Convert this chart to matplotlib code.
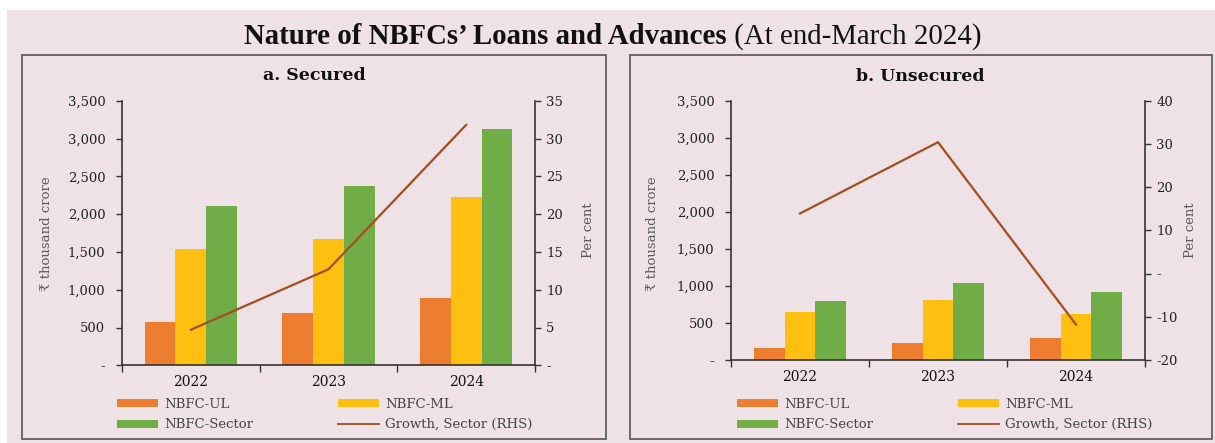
import matplotlib
matplotlib.use("Agg")
import matplotlib.pyplot as plt
from matplotlib.patches import Rectangle
from matplotlib.lines import Line2D
from matplotlib.patches import Patch
import numpy as np

years = ["2022", "2023", "2024"]
sec_ul = [573, 692, 890]
sec_ml = [1534, 1671, 2222]
sec_sector = [2107, 2372, 3122]
sec_growth = [4.7, 12.7, 31.8]

uns_ul = [162, 229, 297]
uns_ml = [652, 810, 621]
uns_sector = [796, 1039, 918]
uns_growth = [13.9, 30.4, -11.8]

left_ticks = [0, 500, 1000, 1500, 2000, 2500, 3000, 3500]

C_UL = "#ED7D31"
C_ML = "#FDC010"
C_SEC = "#70AD47"
C_LINE = "#A64D1F"
BG = "#EFE2E7"
SERIF = ["DejaVu Serif", "DejaVu Sans", "Noto Sans"]

W, H = 1215, 443
fig = plt.figure(figsize=(W / 100, H / 100), dpi=100, facecolor="white")

def fx(px):
    return px / W

def fy(py):
    return 1 - py / H

# pink background
fig.patches.append(Rectangle((fx(7), 0), 1 - fx(7), fy(10), transform=fig.transFigure,
                             facecolor=BG, edgecolor="none", zorder=-10))
# panel frames
for x0, x1 in [(22, 606), (630, 1212)]:
    fig.patches.append(Rectangle((fx(x0), fy(438.5)), fx(x1) - fx(x0), fy(55) - fy(438.5),
                                 transform=fig.transFigure, facecolor="none",
                                 edgecolor="#555555", lw=1.2, zorder=-5))

def fmt_left(v):
    return "-" if v == 0 else f"{int(v):,}"

def fmt_right(v):
    return "-" if v == 0 else f"{int(v)}"

def panel(rect, ul, ml, sec, growth, rticks, rlim):
    l, t, r, b = rect
    ax = fig.add_axes([fx(l), fy(b), fx(r) - fx(l), fy(t) - fy(b)])
    ax.set_facecolor("none")
    x = np.arange(len(years))
    w = 0.224
    ax.bar(x - w, ul, w, color=C_UL, zorder=2)
    ax.bar(x, ml, w, color=C_ML, zorder=2)
    ax.bar(x + w, sec, w, color=C_SEC, zorder=2)
    ax.set_xlim(-0.5, 2.5)
    ax.set_ylim(0, 3500)
    ax.set_yticks(left_ticks)
    ax.set_yticklabels([fmt_left(v) for v in left_ticks], fontfamily=SERIF, fontsize=9.5, color="#222222")
    ax.set_xticks(x)
    ax.set_xticklabels(years, fontfamily=SERIF, fontsize=10, color="#111111")
    ax.set_xticks([-0.5, 0.5, 1.5, 2.5], minor=True)
    ax.tick_params(axis="x", which="major", length=0, pad=7)
    ax.tick_params(axis="x", which="minor", length=5, width=1, color="#333333", direction="out")
    ax.tick_params(axis="y", length=4, width=1, color="#333333", pad=8)
    for s in ["top", "right"]:
        ax.spines[s].set_visible(False)
    for s in ["left", "bottom"]:
        ax.spines[s].set_color("#333333")
        ax.spines[s].set_linewidth(1.2)
    ax2 = ax.twinx()
    ax2.plot(x, growth, color=C_LINE, lw=1.6, zorder=3)
    ax2.set_ylim(*rlim)
    ax2.set_yticks(rticks)
    ax2.set_yticklabels([fmt_right(v) for v in rticks], fontfamily=SERIF, fontsize=9.5, color="#222222")
    ax2.tick_params(axis="y", length=4, width=1, color="#333333", pad=4)
    for s in ["top", "left", "bottom"]:
        ax2.spines[s].set_visible(False)
    ax2.spines["right"].set_color("#333333")
    ax2.spines["right"].set_linewidth(1.2)
    return ax, ax2

axA, axA2 = panel((122, 100.7, 535, 365.3), sec_ul, sec_ml, sec_sector, sec_growth,
                  [0, 5, 10, 15, 20, 25, 30, 35], (0, 35))
axB, axB2 = panel((731, 100.7, 1145, 360), uns_ul, uns_ml, uns_sector, uns_growth,
                  [-20, -10, 0, 10, 20, 30, 40], (-20, 40))

# panel titles
fig.text(fx(314), fy(76), "a. Secured", ha="center", va="center", fontfamily=SERIF,
         fontweight="bold", fontsize=12.5, color="#111111")
fig.text(fx(920), fy(76.5), "b. Unsecured", ha="center", va="center", fontfamily=SERIF,
         fontweight="bold", fontsize=12.5, color="#111111")

# axis labels
for xl, yl in [(47, 234), (652, 234)]:
    fig.text(fx(xl), fy(yl), "₹ thousand crore", rotation=90, ha="center", va="center",
             fontfamily=SERIF, fontsize=9.5, color="#5a5a5a")
for xl, yl in [(588, 230), (1191, 230)]:
    fig.text(fx(xl), fy(yl), "Per cent", rotation=90, ha="center", va="center",
             fontfamily=SERIF, fontsize=9.5, color="#5a5a5a")

# legends
handles = [Patch(facecolor=C_UL), Patch(facecolor=C_SEC), Patch(facecolor=C_ML),
           Line2D([0], [0], color=C_LINE, lw=1.3)]
labels = ["NBFC-UL", "NBFC-Sector", "NBFC-ML", "Growth, Sector (RHS)"]
for xl in [117, 737]:
    leg = fig.legend(handles, labels, ncol=2, loc="upper left",
                     bbox_to_anchor=(fx(xl), fy(398)), frameon=False,
                     prop={"family": SERIF, "size": 9.5},
                     handlelength=3.1, handleheight=0.55, handletextpad=0.5,
                     columnspacing=6.4, labelspacing=0.55, borderaxespad=0, borderpad=0)
    for t in leg.get_texts():
        t.set_color("#444444")

# main title (bold + regular parts)
t1 = fig.text(0, fy(44), "Nature of NBFCs\u2019 Loans and Advances", fontfamily="Liberation Serif",
              fontweight="bold", fontsize=20.8, va="baseline", color="#111111")
t2 = fig.text(0, fy(44), " (At end-March 2024)", fontfamily="Liberation Serif",
              fontsize=20.8, va="baseline", color="#111111")
fig.canvas.draw()
r = fig.canvas.get_renderer()
w1 = t1.get_window_extent(r).width
w2 = t2.get_window_extent(r).width
start = 613 - (w1 + w2) / 2
t1.set_x(fx(start))
t2.set_x(fx(start + w1))

fig.savefig("out.png", dpi=100, facecolor="white")
